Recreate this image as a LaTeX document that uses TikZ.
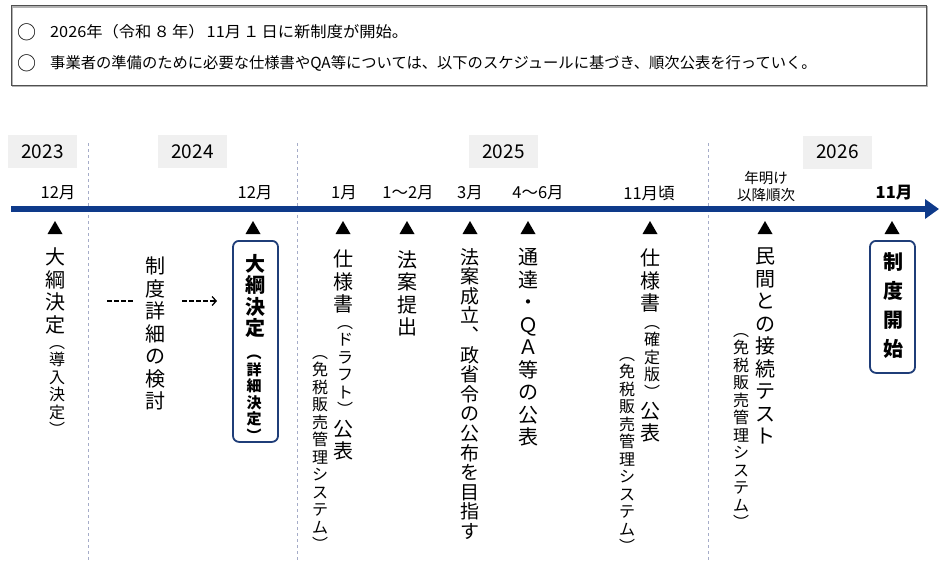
\documentclass[tikz,border=0pt]{standalone}
\usepackage{fontspec}
\newfontfamily\jp{Noto Sans CJK JP}
\usetikzlibrary{arrows.meta}
\definecolor{navy}{RGB}{14,58,138}
\definecolor{boxblue}{RGB}{31,61,120}
\definecolor{yeargray}{RGB}{240,240,240}
\definecolor{sepgray}{RGB}{165,172,200}
\definecolor{framegray}{RGB}{80,80,80}
\begin{document}
\begin{tikzpicture}[x=1pt,y=-1pt,
  every node/.style={inner sep=0pt, font=\jp},
  vbig/.style={font=\jp\fontsize{20}{22.5}\selectfont, align=center, anchor=north},
  vmid/.style={font=\jp\fontsize{19}{19.6}\selectfont, align=center, anchor=north},
  vsmall/.style={font=\jp\fontsize{16}{17.5}\selectfont, align=center, anchor=north},
  vsmallb/.style={font=\jp\bfseries\fontsize{15}{16.5}\selectfont, align=center, anchor=north},
  vbold/.style={font=\jp\bfseries\fontsize{20}{21.5}\selectfont, align=center, anchor=north},
  yearbox/.style={fill=yeargray, minimum width=69pt, minimum height=33pt, font=\jp\fontsize{19}{22}\selectfont},
  monthlbl/.style={font=\jp\fontsize{16.5}{17}\selectfont, align=center},
  sepline/.style={draw=sepgray, line width=0.8pt, dash pattern=on 3pt off 3pt},
  keybox/.style={draw=boxblue, line width=1.8pt, rounded corners=6pt},
  topline/.style={font=\jp\fontsize{15.3}{18}\selectfont, anchor=west},
  bullet/.style={font=\jp\fontsize{19}{19}\selectfont},
  dashconn/.style={line width=1.3pt, dash pattern=on 4.5pt off 2.5pt},
]
\useasboundingbox (0,0) rectangle (939,581);

% top frame
\draw[draw=gray!60, line width=1.2pt] (12.5,7) rectangle (927,86);
\draw[draw=framegray, line width=1pt] (11,5.5) rectangle (926,85);
\node[bullet] (b1) at (26.5,32) {○};
\node[topline] (l1) at (50,32) {\resizebox{358pt}{\height}{2026年（令和\hspace{2pt}８\hspace{2pt}年）\hspace{2pt}11月\hspace{2pt}１\hspace{2pt}日に新制度が開始。}};
\node[bullet] (b2) at (26.5,63) {○};
\node[topline] (l2) at (50,63) {事業者の準備のために必要な仕様書やQA等については、以下のスケジュールに基づき、順次公表を行っていく。};

% years
\node[yearbox] (y23) at (42.5,151.5) {2023};
\node[yearbox] (y24) at (192.5,151.5) {2024};
\node[yearbox] (y25) at (503.5,151.5) {2025};
\node[yearbox] (y26) at (837.5,152) {2026};

% separators
\coordinate (s1a) at (88,143); \coordinate (s1b) at (88,562);
\coordinate (s2a) at (297,143); \coordinate (s2b) at (297,562);
\coordinate (s3a) at (708,143); \coordinate (s3b) at (708,562);
\draw[sepline] (s1a) -- (s1b);
\draw[sepline] (s2a) -- (s2b);
\draw[sepline] (s3a) -- (s3b);

% timeline
\coordinate (t0) at (11,209);
\coordinate (t1) at (939,209);
\draw[navy, line width=6pt, -{Triangle[length=14pt,width=19pt]}] (t0) -- (t1);

% month labels
\node[monthlbl] (m1) at (58,193) {12月};
\node[monthlbl] (m2) at (255,193) {12月};
\node[monthlbl] (m3) at (344,193) {1月};
\node[monthlbl] (m4) at (408,193) {1～2月};
\node[monthlbl] (m5) at (470,193) {3月};
\node[monthlbl] (m6) at (538,193) {4～6月};
\node[monthlbl] (m7) at (649,193) {11月頃};
\node[monthlbl, font=\jp\fontsize{14.5}{17}\selectfont] (m8) at (766,186.5) {年明け\\以降順次};
\node[monthlbl, font=\jp\bfseries\fontsize{16.5}{17}\selectfont] (m9) at (894,193) {11月};

% triangles
\foreach \x in {55,253,343,407,470,528,650,765,892}
  \fill (\x-7.5,234) -- (\x+7.5,234) -- (\x,221) -- cycle;

% col 1
\node[vbig] (c1a) at (55,248) {大\\綱\\決\\定};
\node[vsmall] (c1b) at (57,345) {︵\\導\\入\\決\\定\\︶};

% col 2
\node[vbig] (c2) at (155,257) {制\\度\\詳\\細\\の\\検\\討};
\coordinate (d1s) at (107,301); \coordinate (d1e) at (135,301);
\coordinate (d2s) at (182,301); \coordinate (d2e) at (217,301);
\draw[dashconn] (d1s) -- (d1e);
\draw[dashconn, -{Straight Barb[length=4pt,width=9pt]}] (d2s) -- (d2e);

% col 3
\node[keybox, minimum width=45pt, minimum height=201pt, anchor=north] (c3box) at (255.5,240) {};
\node[vbold] (c3a) at (255,254) {大\\綱\\決\\定};
\node[vsmallb] (c3b) at (254,355) {︵\\詳\\細\\決\\定\\︶};

% col 4
\node[vbig] (c4a) at (343,250) {仕\\様\\書};
\node[vsmall] (c4b) at (345,325) {︵\\ド\\ラ\\フ\\ト\\︶};
\node[vbig] (c4c) at (343,420) {公\\表};
\node[vsmall] (c4d) at (320,355) {︵\\免\\税\\販\\売\\管\\理\\シ\\ス\\テ\\ム\\︶};

% col 5
\node[vbig] (c5) at (407,250) {法\\案\\提\\出};

% col 6
\node[vmid] (c6) at (470,248) {法\\案\\成\\立\\︑\\政\\省\\令\\の\\公\\布\\を\\目\\指\\す};

% col 7
\node[vbig] (c7) at (528,248) {通\\達\\・\\Ｑ\\Ａ\\等\\の\\公\\表};

% col 8
\node[vbig] (c8a) at (650,249) {仕\\様\\書};
\node[vsmall] (c8b) at (652,325) {︵\\確\\定\\版\\︶};
\node[vbig] (c8c) at (650,402) {公\\表};
\node[vsmall] (c8d) at (627,357) {︵\\免\\税\\販\\売\\管\\理\\シ\\ス\\テ\\ム\\︶};

% col 9
\node[vbig] (c9a) at (765,248) {民\\間\\と\\の\\接\\続\\テ\\ス\\ト};
\node[vsmall] (c9b) at (741,333) {︵\\免\\税\\販\\売\\管\\理\\シ\\ス\\テ\\ム\\︶};

% col 10
\node[keybox, minimum width=45pt, minimum height=132pt, anchor=north] (c10box) at (892.5,240) {};
\node[vbold, font=\jp\bfseries\fontsize{20}{29}\selectfont] (c10) at (893,252) {制\\度\\開\\始};
\end{tikzpicture}
\end{document}
